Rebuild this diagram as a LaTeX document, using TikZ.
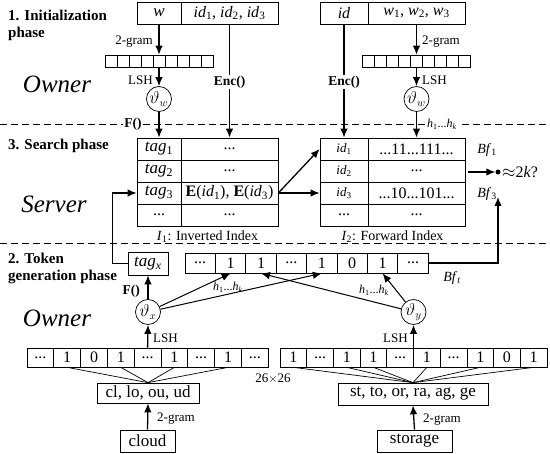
\documentclass[tikz,border=0pt]{standalone}
\usepackage{fontspec}
\setmainfont{Liberation Serif}[BoldFont={Liberation Serif Bold}, ItalicFont={Liberation Serif Italic}, BoldItalicFont={Liberation Serif Bold Italic}]
\usetikzlibrary{arrows.meta}
\newcommand{\skipd}{...}

\begin{document}
\begin{tikzpicture}[x=1pt, y=-1pt, >={Latex[length=9pt,width=7.5pt]},
    every node/.style={inner sep=0pt},
    cell/.style={draw, line width=0.7pt, minimum height=22pt, font=\fontsize{16}{18}\selectfont},
    bitbox/.style={draw, line width=0.7pt, minimum height=20pt, font=\fontsize{16}{18}\selectfont},
    tinybit/.style={draw, line width=0.6pt, minimum width=12pt, minimum height=12pt},
    hash/.style={draw, circle, line width=0.7pt, minimum size=25pt, font=\fontsize{16}{18}\selectfont},
    phase/.style={anchor=west, font=\bfseries\fontsize{15}{17}\selectfont},
    role/.style={font=\itshape\fontsize{25}{28}\selectfont},
    lbl/.style={font=\fontsize{13}{15}\selectfont},
    op/.style={font=\bfseries\fontsize{13.5}{15}\selectfont, fill=white, inner sep=1pt},
    sep/.style={dashed, dash pattern=on 7pt off 4pt, line width=0.8pt},
    arr/.style={->, line width=1.3pt}]

    \useasboundingbox (0,0) rectangle (550,454);

    % Phases and roles
    \node at (8,15) (ph1a) [phase] {1. Initialization};
    \node at (8,34) (ph1b) [phase] {phase};
    \node at (8,146) (ph3) [phase] {3. Search phase};
    \node at (8,258) (ph2a) [phase] {2. Token};
    \node at (8,277) (ph2b) [phase] {generation phase};
    \node at (57,84) (own1) [role] {Owner};
    \node at (54,204) (srv) [role] {Server};
    \node at (57,318) (own2) [role] {Owner};

    % Separators
    \draw[sep] (0,124) -- (550,124);
    \draw[sep] (0,243) -- (550,243);

    % Records of the owner
    \node at (159,13) (w) [cell, minimum width=44pt, font=\fontsize{17}{19}\selectfont] {\textit{w}};
    \node at (229.5,13) (ids) [cell, minimum width=97pt] {\textit{id}\textsubscript{1}, \textit{id}\textsubscript{2}, \textit{id}\textsubscript{3}};
    \node at (344,13) (id) [cell, minimum width=48pt] {\textit{id}};
    \node at (416.5,13) (ws) [cell, minimum width=97pt] {\textit{w}\textsubscript{1}, \textit{w}\textsubscript{2}, \textit{w}\textsubscript{3}};

    % 2-gram vectors (top)
    \node at (159,61) (lbits) [tinybit, minimum width=108pt] {};
    \foreach \i in {0,...,8} \node at ({111+12*\i},61) (lb\i) [tinybit] {};
    \node at (416.5,61) (rbits) [tinybit, minimum width=108pt] {};
    \foreach \i in {0,...,8} \node at ({368.5+12*\i},61) (rb\i) [tinybit] {};

    \node at (159,99) (thw1) [hash] {$\vartheta_w$};
    \node at (416.5,99) (thw2) [hash] {$\vartheta_w$};

    % I1: inverted index
    \node at (159,149) (tag1) [cell, minimum width=44pt, font=\fontsize{17}{19}\selectfont] {\textit{tag}\textsubscript{1}};
    \node at (229.5,149) (inv1) [cell, minimum width=97pt] {...};
    \node at (159,171) (tag2) [cell, minimum width=44pt, font=\fontsize{17}{19}\selectfont] {\textit{tag}\textsubscript{2}};
    \node at (229.5,171) (inv2) [cell, minimum width=97pt] {...};
    \node at (159,193) (tag3) [cell, minimum width=44pt, font=\fontsize{17}{19}\selectfont] {\textit{tag}\textsubscript{3}};
    \node at (229.5,193) (inv3) [cell, minimum width=97pt] {\textbf{E}(\textit{id}\textsubscript{1}), \textbf{E}(\textit{id}\textsubscript{3})};
    \node at (159,215) (tag4) [cell, minimum width=44pt] {...};
    \node at (229.5,215) (inv4) [cell, minimum width=97pt] {...};
    \node at (207.5,237) (i1lbl) [lbl, font=\fontsize{14}{16}\selectfont] {\textit{I}\textsubscript{1}: Inverted Index};

    % I2: forward index
    \node at (344,149) (fid1) [cell, minimum width=48pt, font=\fontsize{13}{15}\selectfont] {\textit{id}\textsubscript{1}};
    \node at (416.5,149) (bf1) [cell, minimum width=97pt] {...11...111...};
    \node at (344,171) (fid2) [cell, minimum width=48pt, font=\fontsize{13}{15}\selectfont] {\textit{id}\textsubscript{2}};
    \node at (416.5,171) (bf2) [cell, minimum width=97pt] {...};
    \node at (344,193) (fid3) [cell, minimum width=48pt, font=\fontsize{13}{15}\selectfont] {\textit{id}\textsubscript{3}};
    \node at (416.5,193) (bf3) [cell, minimum width=97pt] {...10...101...};
    \node at (344,215) (fid4) [cell, minimum width=48pt] {...};
    \node at (416.5,215) (bf4) [cell, minimum width=97pt] {...};
    \node at (392.5,237) (i2lbl) [lbl, font=\fontsize{14}{16}\selectfont] {\textit{I}\textsubscript{2}: Forward Index};

    \node at (487,150) (bfa) [lbl, font=\fontsize{14}{16}\selectfont] {\textit{Bf}\textsubscript{1}};
    \node at (487,194) (bfb) [lbl, font=\fontsize{14}{16}\selectfont] {\textit{Bf}\textsubscript{3}};
    \node at (498,172) (dot) [circle, fill, minimum size=5pt] {};
    \node at (502,172) (cmp) [anchor=west, font=\fontsize{16}{18}\selectfont] {$\approx$2\textit{k}?};
    \coordinate (cmpin) at (468,172);

    % Token of the query
    \node at (148,263.5) (tagx) [cell, minimum width=40pt, minimum height=23pt, font=\fontsize{17}{19}\selectfont] {\textit{tag}\textsubscript{\textit{x}}};
    \node at (306.6,263) (bft) [bitbox, minimum width=243.2pt] {};
    \foreach \t [count=\i] in {\skipd,1,1,\skipd,1,0,1,\skipd}
        \node at ({169.8+30.4*\i},263) (bt\i) [bitbox, minimum width=30.4pt] {\t};
    \node at (452,278) (bftl) [lbl, font=\fontsize{14}{16}\selectfont] {\textit{Bf}\textsubscript{\textit{t}}};
    \coordinate (bfup) at (498,197);

    \node at (148,312) (thx) [hash] {$\vartheta_x$};
    \node at (413.5,312) (thy) [hash] {$\vartheta_y$};

    % 26x26 vectors
    \node at (147.6,357.5) (lbv) [bitbox, minimum width=241.2pt, minimum height=19pt] {};
    \foreach \t [count=\i] in {\skipd,1,0,1,\skipd,1,\skipd,1,\skipd}
        \node at ({13.6+26.8*\i},357.5) (lc\i) [bitbox, minimum width=26.8pt, minimum height=19pt] {\t};
    \node at (413.5,357.5) (rbv) [bitbox, minimum width=267pt, minimum height=19pt] {};
    \foreach \t [count=\i] in {1,\skipd,1,1,\skipd,1,\skipd,1,0,1}
        \node at ({266.65+26.7*\i},357.5) (rc\i) [bitbox, minimum width=26.7pt, minimum height=19pt] {\t};
    \node at (273,379) (dim) [lbl] {26$\times$26};

    \node at (148,393) (lgram) [cell, minimum width=102pt, minimum height=20pt, font=\fontsize{17}{19}\selectfont] {cl, lo, ou, ud};
    \node at (413,394) (rgram) [cell, minimum width=150pt, font=\fontsize{17}{19}\selectfont] {st, to, or, ra, ag, ge};
    \node at (147.5,441) (cloud) [cell, minimum width=55pt, font=\fontsize{17}{19}\selectfont] {cloud};
    \node at (414.5,441) (storage) [cell, minimum width=75pt, font=\fontsize{17}{19}\selectfont] {storage};

    % Arrows (initialization)
    \draw[arr] (w.south) -- (lbits.north);
    \draw[arr] (lbits.south) -- (thw1.north);
    \draw[arr] (thw1.south) -- (tag1.north);
    \draw[arr] (ids.south) -- (inv1.north);
    \draw[arr] (id.south) -- (fid1.north);
    \draw[arr] (ws.south) -- (rbits.north);
    \draw[arr] (rbits.south) -- (thw2.north);
    \draw[arr] (thw2.south) -- (bf1.north);

    % Arrows (search)
    \draw[arr] (inv3.east) -- (fid1.west);
    \draw[arr] (inv3.east) -- (fid3.west);
    \draw[arr] (cmpin) -- (dot);
    \draw[arr] (bft.east) -| (bfup);
    \draw[arr] (tagx.west) -- ++(-15,0) |- (tag3.west);

    % Arrows (token generation)
    \draw[arr] (cloud.north) -- (lgram.south);
    \draw[arr] (storage.north) -- (rgram.south);
    \foreach \i in {2,4,6,8} \draw[line width=0.7pt] (lc\i.south) -- (lgram.north);
    \foreach \i in {1,3,4,6,8,10} \draw[line width=0.7pt] (rc\i.south) -- (rgram.north);
    \draw[arr] (lbv.north) -- (thx.south);
    \draw[arr] (rbv.north) -- (thy.south);
    \draw[arr] (thx.north) -- (tagx.south);
    \draw[arr, line width=1pt] (thx) -- (bt2.south);
    \draw[arr, line width=1pt] (thx) -- (bt5.south);
    \draw[arr, line width=1pt] (thy) -- (bt3.south);
    \draw[arr, line width=1pt] (thy) -- (bt7.south);

    % Arrow labels
    \node at (153,42) (g1) [lbl, anchor=east] {2-gram};
    \node at (153,80) (h1) [lbl, anchor=east] {LSH};
    \node at (133,124) (f1) [op] {F()};
    \node at (229.5,82) (e1) [op] {Enc()};
    \node at (344,82) (e2) [op] {Enc()};
    \node at (422,42) (g2) [lbl, anchor=west] {2-gram};
    \node at (422,80) (h2) [lbl, anchor=west] {LSH};
    \node at (442,124) (hk1) [lbl, fill=white, inner sep=1pt, font=\fontsize{12}{14}\selectfont] {\textit{h}\textsubscript{1}...\textit{h}\textsubscript{\textit{k}}};
    \node at (141,291) (f2) [op, anchor=east, fill=none] {F()};
    \node at (153,338) (h3) [lbl, anchor=west] {LSH};
    \node at (408,338) (h4) [lbl, anchor=east] {LSH};
    \node at (228,287) (hk2) [lbl, font=\fontsize{12}{14}\selectfont] {\textit{h}\textsubscript{1}...\textit{h}\textsubscript{\textit{k}}};
    \node at (374,290) (hk3) [lbl, font=\fontsize{12}{14}\selectfont] {\textit{h}\textsubscript{1}...\textit{h}\textsubscript{\textit{k}}};
    \node at (157,419) (g3) [lbl, anchor=west] {2-gram};
    \node at (423,420) (g4) [lbl, anchor=west] {2-gram};

\end{tikzpicture}
\end{document}
